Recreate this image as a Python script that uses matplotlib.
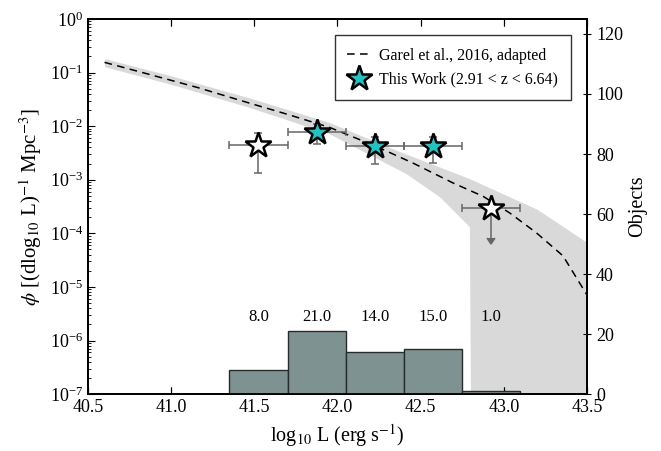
import matplotlib
matplotlib.use("Agg")
import matplotlib.pyplot as plt
import numpy as np

plt.rcParams['font.family'] = ['Liberation Serif', 'DejaVu Serif']
plt.rcParams['mathtext.fontset'] = 'stix'

# Garel et al. 2016 model (log10 phi)
model_logL = [40.6, 40.84, 41.16, 41.46, 41.70, 41.95, 42.22, 42.455, 42.695, 42.876, 43.036, 43.196, 43.356, 43.5]
model_logphi = [-0.81, -1.01, -1.28, -1.56, -1.78, -2.02, -2.36, -2.69, -3.06, -3.31, -3.62, -3.99, -4.42, -5.15]

# shaded uncertainty band
band_up_logL = [40.6, 41.0, 41.5, 41.95, 42.355, 42.795, 43.2, 43.5]
band_up_logphi = [-0.74, -1.06, -1.50, -1.93, -2.45, -2.98, -3.55, -4.17]
band_lo_logL = [40.6, 41.0, 41.46, 41.95, 42.415, 42.615, 42.795, 42.80, 43.5]
band_lo_logphi = [-0.89, -1.22, -1.64, -2.14, -2.89, -3.32, -3.88, -8.0, -8.0]

# this work
lum_centers = [41.525, 41.875, 42.225, 42.575, 42.925]
phi = [4.45e-3, 7.89e-3, 4.26e-3, 4.26e-3, 2.92e-4]
phi_hi = [7.55e-3, 1.12e-2, 6.3e-3, 6.3e-3, 8.3e-4]
phi_lo = [1.33e-3, 4.57e-3, 1.96e-3, 2.09e-3, 8.1e-5]
filled = [False, True, True, True, False]
upper_limit = [False, False, False, False, True]
bin_half = 0.175

# histogram of objects
hist_edges = [41.35, 41.70, 42.05, 42.40, 42.75, 43.10]
counts = [8, 21, 14, 15, 1]

fig = plt.figure(figsize=(6.61, 4.51), dpi=100)
ax = fig.add_axes([0.133, 0.126, 0.755, 0.832])
ax2 = ax.twinx()

# band
grid = np.linspace(40.6, 43.5, 600)
up = np.interp(grid, band_up_logL, band_up_logphi)
lo = np.interp(grid, band_lo_logL, band_lo_logphi)
ax.fill_between(grid, 10 ** lo, 10 ** up, color='0.85', lw=0, zorder=1)

ax.plot(model_logL, 10 ** np.array(model_logphi), color='k', lw=1.1,
        dashes=(5, 3.5), zorder=2, label='Garel et al., 2016, adapted')

for i in range(len(lum_centers)):
    y = phi[i]
    yerr = [[y - phi_lo[i]], [phi_hi[i] - y]]
    ax.errorbar(lum_centers[i], y, xerr=bin_half, yerr=yerr, fmt='none',
                color='0.4', ecolor='0.4', elinewidth=1.1, capsize=3, capthick=1.1,
                uplims=upper_limit[i], zorder=3)
    fc = '#1ec4c4' if filled[i] else 'white'
    lab = 'This Work (2.91 < z < 6.64)' if i == 1 else None
    ax.plot(lum_centers[i], y, marker='*', ms=19, mfc=fc, mec='k', mew=1.8,
            ls='none', zorder=4, label=lab)

ax.set_yscale('log')
ax.set_ylim(1e-7, 1)
ax.set_xlim(40.5, 43.5)
ax.set_xticks(np.arange(40.5, 43.51, 0.5))
ax.set_xlabel(r'log$_{10}$ L (erg s$^{-1}$)', fontsize=14.5)
ax.set_ylabel(r'$\phi$ [(dlog$_{10}$ L)$^{-1}$ Mpc$^{-3}$]', fontsize=15)
ax.tick_params(which='both', direction='in', top=True, right=False, labelsize=13)
ax.tick_params(which='major', length=5)
ax.tick_params(which='minor', length=2.5)

leg = ax.legend(loc='upper right', fontsize=11.5, fancybox=False, framealpha=1,
                edgecolor='0.2', borderaxespad=1.0, handlelength=1.4,
                handletextpad=0.6, borderpad=0.8, numpoints=1)
leg.get_frame().set_linewidth(1.0)

# histogram on right axis
widths = np.diff(hist_edges)
ax2.bar(hist_edges[:-1], counts, width=widths, align='edge',
        color='#7e9391', edgecolor='#2a2a2a', lw=1.0, zorder=2)
for i in range(len(counts)):
    c = hist_edges[i] + widths[i] / 2
    ax2.text(c, 25.6, '%.1f' % counts[i], ha='center', va='center', fontsize=12)
ax2.set_ylim(0, 125)
ax2.set_yticks(np.arange(0, 121, 20))
ax2.set_ylabel('Objects', fontsize=14.5)
ax2.tick_params(axis='y', direction='inout', length=6, labelsize=13)
ax2.xaxis.set_visible(True)
ax2.tick_params(axis='x', which='both', direction='in', bottom=True, top=True,
                labelbottom=False, length=5)
ax2.set_xlim(40.5, 43.5)

for a in (ax, ax2):
    for s in a.spines.values():
        s.set_linewidth(1.3)

fig.savefig('out.png', dpi=100)
